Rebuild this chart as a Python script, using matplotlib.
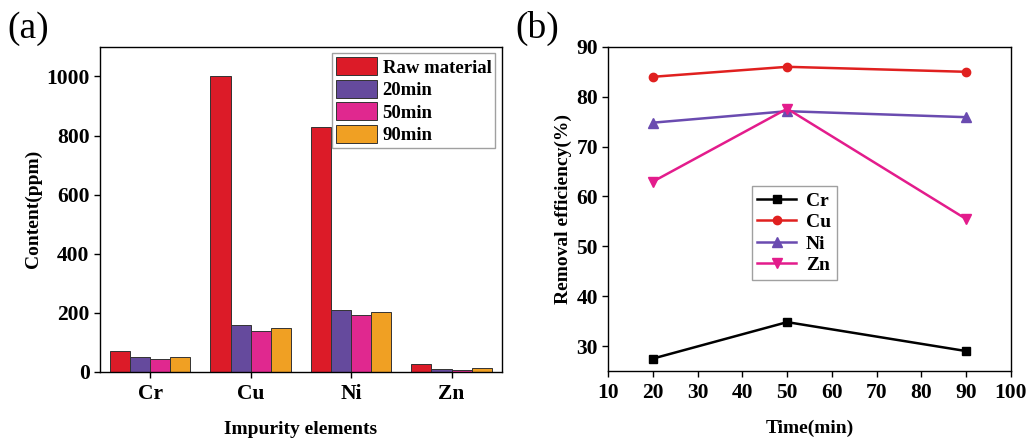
import matplotlib
matplotlib.use("Agg")
import matplotlib.pyplot as plt
import numpy as np

plt.rcParams['font.family'] = ['Liberation Serif', 'DejaVu Serif']
plt.rcParams['font.weight'] = 'bold'

# Panel (a) data
elements = ["Cr", "Cu", "Ni", "Zn"]
series_names = ["Raw material", "20min", "50min", "90min"]
raw_material = [70, 1000, 830, 28]
min20 = [51, 160, 211, 10]
min50 = [45, 139, 191, 5]
min90 = [50, 150, 201, 12]
bar_colors = ["#DC1B28", "#654A9D", "#E0288F", "#F0A023"]

# Panel (b) data
times = [20, 50, 90]
eff_cr = [27.5, 34.8, 29.0]
eff_cu = [84.0, 86.0, 85.0]
eff_ni = [74.8, 77.1, 75.9]
eff_zn = [63.0, 77.6, 55.5]

fig = plt.figure(figsize=(10.26, 4.38), dpi=100)
ax1 = fig.add_axes([0.0975, 0.151, 0.3915, 0.742])
ax2 = fig.add_axes([0.593, 0.153, 0.392, 0.740])

tick_fs = 15.5
label_fs = 14

# ---- (a) ----
x = np.arange(len(elements))
w = 0.2
all_series = [raw_material, min20, min50, min90]
for i, (vals, name, c) in enumerate(zip(all_series, series_names, bar_colors)):
    ax1.bar(x + (i - 1.5) * w, vals, width=w, color=c, edgecolor="#333333",
            linewidth=0.7, label=name)
ax1.set_xlim(-0.5, 3.5)
ax1.set_ylim(0, 1100)
ax1.set_xticks(x)
ax1.set_xticklabels(elements)
ax1.set_yticks([0, 200, 400, 600, 800, 1000])
ax1.tick_params(direction='out', labelsize=tick_fs, width=1, length=4)
ax1.tick_params(axis='x', pad=5)
ax1.set_xlabel("Impurity elements", fontsize=label_fs, fontweight='bold', labelpad=12)
ax1.set_ylabel("Content(ppm)", fontsize=label_fs, fontweight='bold', labelpad=3)
leg1 = ax1.legend(loc='upper right', fontsize=13.5, frameon=True, fancybox=False,
                  edgecolor="#888888", handlelength=2.2, handleheight=1.1,
                  labelspacing=0.17, borderpad=0.2, handletextpad=0.3,
                  borderaxespad=0.35)
leg1.get_frame().set_linewidth(1.0)
for s in ax1.spines.values():
    s.set_linewidth(1.0)
fig.text(0.007, 0.895, "(a)", fontsize=27, fontweight='normal', ha='left', va='bottom')

# ---- (b) ----
ax2.plot(times, eff_cr, color="black", marker='s', markersize=6, linewidth=1.8, label="Cr")
ax2.plot(times, eff_cu, color="#E0201F", marker='o', markersize=6, linewidth=1.8, label="Cu")
ax2.plot(times, eff_ni, color="#6A4BB0", marker='^', markersize=6.5, linewidth=1.8, label="Ni")
ax2.plot(times, eff_zn, color="#E31C8C", marker='v', markersize=6.5, linewidth=1.8, label="Zn")
ax2.set_xlim(10, 100)
ax2.set_ylim(25, 90)
ax2.set_xticks(np.arange(10, 101, 10))
ax2.set_yticks(np.arange(30, 91, 10))
ax2.tick_params(direction='out', labelsize=tick_fs, width=1, length=4)
ax2.tick_params(axis='x', pad=5)
ax2.set_xlabel("Time(min)", fontsize=label_fs, fontweight='bold', labelpad=12)
ax2.set_ylabel("Removal efficiency(%)", fontsize=label_fs, fontweight='bold', labelpad=3)
leg2 = ax2.legend(loc='upper left', bbox_to_anchor=(0.356, 0.570), fontsize=14,
                  frameon=True, fancybox=False, edgecolor="#888888",
                  handlelength=2.0, labelspacing=0.2, borderpad=0.3,
                  handletextpad=0.5, borderaxespad=0)
leg2.get_frame().set_linewidth(1.0)
for s in ax2.spines.values():
    s.set_linewidth(1.0)
fig.text(0.502, 0.895, "(b)", fontsize=27, fontweight='normal', ha='left', va='bottom')

fig.savefig("out.png", dpi=100)
